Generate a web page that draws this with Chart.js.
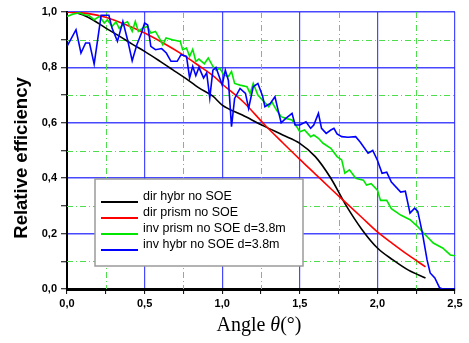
<!DOCTYPE html>
<html lang="en">
<head>
<meta charset="UTF-8">
<title>Relative efficiency vs angle</title>
<script src="https://cdn.jsdelivr.net/npm/chart.js"></script>
<style>
    body { margin: 0; background: #fff; }
    #wrap { width: 469px; height: 343px; }
</style>
</head>
<body>
<div id="wrap"><canvas id="effChart" width="469" height="343"></canvas></div>
<script>
// data
const seriesNames = ['dir hybr no SOE', 'dir prism no SOE', 'inv prism no SOE d=3.8m', 'inv hybr no SOE d=3.8m'];
const seriesColors = ['#000000', '#ff0000', '#00e600', '#0000ff'];

const dirHybrAngle = [0, 0.05, 0.1, 0.165, 0.25, 0.34, 0.42, 0.5, 0.6, 0.68, 0.76, 0.85, 0.94, 1.0, 1.13, 1.27, 1.39, 1.5, 1.6, 1.7, 1.8, 1.9, 2.0, 2.1, 2.2, 2.31];
const dirHybrEff = [1.0, 0.998, 0.99, 0.972, 0.942, 0.912, 0.884, 0.858, 0.822, 0.792, 0.762, 0.726, 0.696, 0.664, 0.628, 0.588, 0.556, 0.526, 0.478, 0.4, 0.3, 0.215, 0.148, 0.105, 0.068, 0.04];

const dirPrismAngle = [0, 0.13, 0.25, 0.38, 0.5, 0.62, 0.745, 0.85, 0.95, 1.0, 1.135, 1.275, 1.39, 1.5, 1.6, 1.7, 1.8, 1.9, 2.0, 2.1, 2.2, 2.31];
const dirPrismEff = [1.0, 0.995, 0.981, 0.954, 0.924, 0.888, 0.846, 0.806, 0.766, 0.74, 0.676, 0.592, 0.528, 0.468, 0.415, 0.362, 0.31, 0.258, 0.206, 0.163, 0.122, 0.08];

const invPrismAngle = [0, 0.037, 0.08, 0.11, 0.14, 0.175, 0.21, 0.24, 0.26, 0.29, 0.316, 0.337, 0.37, 0.39, 0.42, 0.44, 0.46, 0.49, 0.52, 0.54, 0.57, 0.595, 0.617, 0.638, 0.68, 0.73, 0.745, 0.77, 0.79, 0.81, 0.83, 0.85, 0.885, 0.91, 0.94, 0.96, 0.985, 1.01, 1.04, 1.06, 1.08, 1.115, 1.16, 1.18, 1.2, 1.23, 1.26, 1.3, 1.32, 1.35, 1.38, 1.41, 1.45, 1.48, 1.5, 1.53, 1.57, 1.59, 1.62, 1.65, 1.7, 1.74, 1.77, 1.79, 1.82, 1.86, 1.91, 1.93, 1.96, 2.0, 2.02, 2.06, 2.09, 2.15, 2.21, 2.26, 2.31, 2.36, 2.42, 2.47, 2.5];
const invPrismEff = [0.984, 0.992, 0.997, 0.99, 0.988, 0.972, 0.984, 0.96, 0.972, 0.948, 0.964, 0.94, 0.96, 0.965, 0.93, 0.966, 0.93, 0.943, 0.948, 0.924, 0.93, 0.906, 0.882, 0.906, 0.9, 0.894, 0.864, 0.87, 0.84, 0.865, 0.822, 0.83, 0.813, 0.834, 0.804, 0.79, 0.797, 0.773, 0.767, 0.785, 0.742, 0.736, 0.73, 0.706, 0.742, 0.7, 0.682, 0.658, 0.676, 0.646, 0.622, 0.616, 0.61, 0.586, 0.568, 0.574, 0.55, 0.556, 0.544, 0.526, 0.508, 0.478, 0.466, 0.418, 0.43, 0.4, 0.393, 0.375, 0.38, 0.357, 0.32, 0.32, 0.29, 0.267, 0.25, 0.225, 0.195, 0.166, 0.148, 0.123, 0.12];

const invHybrAngle = [0, 0.058, 0.09, 0.12, 0.145, 0.175, 0.22, 0.27, 0.29, 0.325, 0.36, 0.39, 0.42, 0.45, 0.48, 0.5, 0.52, 0.54, 0.57, 0.61, 0.64, 0.67, 0.71, 0.735, 0.77, 0.79, 0.81, 0.83, 0.85, 0.88, 0.9, 0.92, 0.94, 0.96, 1.0, 1.02, 1.04, 1.06, 1.08, 1.115, 1.15, 1.17, 1.2, 1.23, 1.26, 1.275, 1.31, 1.34, 1.36, 1.38, 1.41, 1.45, 1.47, 1.5, 1.54, 1.57, 1.59, 1.62, 1.64, 1.67, 1.7, 1.72, 1.74, 1.77, 1.81, 1.86, 1.89, 1.94, 1.97, 2.0, 2.03, 2.06, 2.09, 2.15, 2.18, 2.21, 2.24, 2.26, 2.29, 2.32, 2.34, 2.37, 2.4, 2.42, 2.5];
const invHybrEff = [0.876, 0.936, 0.852, 0.888, 0.888, 0.812, 0.988, 0.988, 0.942, 0.894, 0.966, 0.9, 0.824, 0.882, 0.924, 0.96, 0.953, 0.876, 0.864, 0.868, 0.852, 0.822, 0.822, 0.846, 0.84, 0.762, 0.804, 0.77, 0.8, 0.762, 0.78, 0.69, 0.79, 0.8, 0.736, 0.79, 0.753, 0.586, 0.688, 0.724, 0.706, 0.652, 0.73, 0.742, 0.697, 0.658, 0.67, 0.694, 0.646, 0.6, 0.616, 0.634, 0.592, 0.592, 0.604, 0.58, 0.592, 0.634, 0.58, 0.562, 0.574, 0.58, 0.56, 0.55, 0.548, 0.55, 0.53, 0.49, 0.5, 0.465, 0.418, 0.422, 0.386, 0.35, 0.353, 0.274, 0.292, 0.28, 0.202, 0.105, 0.058, 0.04, 0.005, 0, 0];

const xMin = 0, xMax = 2.5, xStep = 0.25;
const yMin = 0, yMax = 1.0, yStep = 0.1;

const pts = (xs, ys) => xs.map((x, i) => ({ x: x, y: ys[i] }));

const majorBlue = 'rgba(40,40,255,0.85)';
const isMajor = (v, step) => Math.round(v / step) % 2 === 0;
const fmt = v => v.toFixed(1).replace('.', ',');

// minor dashed green grid lines
const minorGrid = {
    id: 'minorGrid',
    beforeDatasetsDraw(chart) {
        const { ctx, chartArea: a, scales: { x, y } } = chart;
        ctx.save();
        ctx.strokeStyle = '#4ddd4d';
        ctx.lineWidth = 1;
        ctx.setLineDash([6, 3, 1, 3]);
        x.ticks.forEach(t => {
            if (isMajor(t.value, xStep)) return;
            const px = Math.round(x.getPixelForValue(t.value)) + 0.5;
            ctx.beginPath(); ctx.moveTo(px, a.top); ctx.lineTo(px, a.bottom); ctx.stroke();
        });
        y.ticks.forEach(t => {
            if (isMajor(t.value, yStep)) return;
            const py = Math.round(y.getPixelForValue(t.value)) + 0.5;
            ctx.beginPath(); ctx.moveTo(a.left, py); ctx.lineTo(a.right, py); ctx.stroke();
        });
        ctx.restore();
    }
};

// legend box inside the plot + axis titles
const boxLegend = {
    id: 'boxLegend',
    afterDraw(chart) {
        const ctx = chart.ctx;
        ctx.save();
        const bx = 95, by = 179, bw = 208, bh = 87;
        ctx.fillStyle = '#ffffff';
        ctx.fillRect(bx, by, bw, bh);
        ctx.strokeStyle = '#9a9a9a';
        ctx.lineWidth = 1.5;
        ctx.strokeRect(bx, by, bw, bh);
        ctx.font = '12.5px "Liberation Sans", Arial, sans-serif';
        ctx.textBaseline = 'alphabetic';
        ctx.textAlign = 'left';
        seriesNames.forEach((name, i) => {
            const ly = 202 + i * 16;
            ctx.strokeStyle = seriesColors[i];
            ctx.lineWidth = 2;
            ctx.beginPath(); ctx.moveTo(101, ly); ctx.lineTo(138, ly); ctx.stroke();
            ctx.fillStyle = '#000';
            ctx.fillText(name, 143, ly - 2.5);
        });

        // y title
        ctx.save();
        ctx.translate(22, 158);
        ctx.rotate(-Math.PI / 2);
        ctx.font = 'bold 18.5px "Liberation Sans", Arial, sans-serif';
        ctx.textAlign = 'center';
        ctx.textBaseline = 'middle';
        ctx.fillStyle = '#000';
        ctx.fillText('Relative efficiency', 0, 0);
        ctx.restore();

        // x title with italic theta
        const parts = [
            ['Angle ', '20px "Liberation Serif", "Times New Roman", serif'],
            ['\u03B8', 'italic 20px "Liberation Serif", "Times New Roman", serif'],
            ['(\u00B0)', '20px "Liberation Serif", "Times New Roman", serif']
        ];
        let total = 0;
        parts.forEach(p => { ctx.font = p[1]; total += ctx.measureText(p[0]).width; });
        let cx = 259 - total / 2;
        ctx.fillStyle = '#000';
        ctx.textAlign = 'left';
        ctx.textBaseline = 'alphabetic';
        parts.forEach(p => {
            ctx.font = p[1];
            ctx.fillText(p[0], cx, 331);
            cx += ctx.measureText(p[0]).width;
        });
        ctx.restore();
    }
};

const tickFont = { family: '"Liberation Sans", Arial, sans-serif', size: 11, weight: 'bold' };

new Chart(document.getElementById('effChart'), {
    type: 'line',
    data: {
        datasets: [
            { label: seriesNames[0], data: pts(dirHybrAngle, dirHybrEff), borderColor: seriesColors[0], order: 3, cubicInterpolationMode: 'monotone' },
            { label: seriesNames[1], data: pts(dirPrismAngle, dirPrismEff), borderColor: seriesColors[1], order: 2, cubicInterpolationMode: 'monotone' },
            { label: seriesNames[2], data: pts(invPrismAngle, invPrismEff), borderColor: seriesColors[2], order: 1 },
            { label: seriesNames[3], data: pts(invHybrAngle, invHybrEff), borderColor: seriesColors[3], order: 0 }
        ]
    },
    options: {
        responsive: false,
        animation: false,
        devicePixelRatio: 1,
        layout: { padding: { top: 12, right: 14, left: 0, bottom: 0 } },
        elements: {
            point: { radius: 0 },
            line: { borderWidth: 1.6, tension: 0 }
        },
        plugins: { legend: { display: false }, tooltip: { enabled: false } },
        scales: {
            x: {
                type: 'linear',
                min: xMin, max: xMax,
                afterFit: s => { s.height = 54; },
                ticks: {
                    stepSize: xStep,
                    autoSkip: false,
                    maxRotation: 0,
                    padding: 3,
                    color: '#000',
                    font: tickFont,
                    callback: v => isMajor(v, xStep) ? fmt(v) : ''
                },
                grid: {
                    color: c => isMajor(c.tick.value, xStep) ? majorBlue : 'rgba(0,0,0,0)',
                    lineWidth: 1.2,
                    tickColor: '#000',
                    tickLength: 5,
                    tickWidth: 1
                },
                border: { color: '#000', width: 3 }
            },
            y: {
                type: 'linear',
                min: yMin, max: yMax,
                afterFit: s => { s.width = 67; },
                ticks: {
                    stepSize: yStep,
                    autoSkip: false,
                    padding: 4,
                    color: '#000',
                    font: tickFont,
                    callback: v => isMajor(v, yStep) ? fmt(v) : ''
                },
                grid: {
                    color: c => isMajor(c.tick.value, yStep) ? majorBlue : 'rgba(0,0,0,0)',
                    lineWidth: 1.5,
                    tickColor: '#000',
                    tickLength: 6,
                    tickWidth: 1
                },
                border: { color: '#000', width: 2 }
            }
        }
    },
    plugins: [minorGrid, boxLegend]
});
</script>
</body>
</html>
